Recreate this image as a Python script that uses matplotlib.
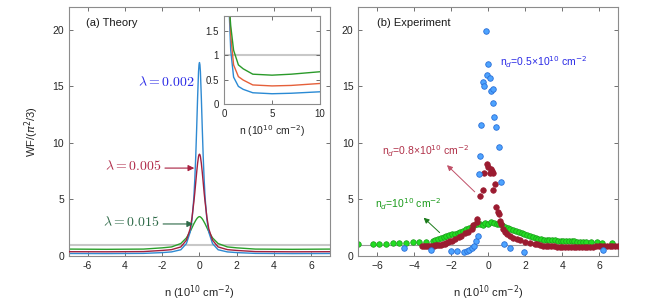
import matplotlib
matplotlib.use("Agg")
import matplotlib.pyplot as plt
import numpy as np

plt.rcParams['font.family'] = ['Liberation Sans', 'DejaVu Sans']
plt.rcParams['mathtext.fontset'] = 'dejavusans'

# --- (a) theory, half curves (n >= 0), mirrored for the main panel
n_half = [0, 0.025, 0.05, 0.1, 0.15, 0.2, 0.25, 0.3, 0.4, 0.5, 0.7, 1.0, 1.5, 2, 3, 5, 7, 10]
wf_002 = [17.1, 16.9, 16.3, 14.0, 11.3, 8.8, 6.8, 5.2, 3.2, 2.1, 1.1, 0.55, 0.36, 0.3, 0.23, 0.21, 0.22, 0.25]
wf_005 = [9.0, 8.95, 8.8, 8.2, 7.4, 6.5, 5.6, 4.8, 3.4, 2.4, 1.4, 0.8, 0.56, 0.49, 0.39, 0.37, 0.38, 0.42]
wf_015 = [3.48, 3.47, 3.45, 3.38, 3.28, 3.15, 3.0, 2.85, 2.5, 2.15, 1.6, 1.1, 0.8, 0.72, 0.61, 0.59, 0.61, 0.66]

# --- (b) experiment
blue_n = [-4.52, -3.10, -2.00, -1.68, -1.32, -1.16, -1.02, -0.89, -0.77, -0.66, -0.53, -0.50, -0.44,
          -0.39, -0.28, -0.24, -0.13, -0.08, 0.0, 0.08, 0.13, 0.28, 0.26, 0.31, 0.42, 0.57, 0.67,
          0.87, 1.18, 1.93, 6.21]
blue_wf = [0.74, 0.50, 0.40, 0.40, 0.32, 0.45, 0.55, 0.70, 0.92, 1.30, 1.80, 7.24, 8.87,
           11.6, 15.4, 15.0, 19.9, 16.0, 17.0, 15.7, 14.6, 14.8, 13.5, 12.3, 11.4, 9.66, 6.5,
           1.05, 0.72, 0.33, 0.5]

red_n = [-3.55, -3.45, -3.35, -3.25, -3.15, -3.05, -2.95, -2.85, -2.75, -2.65, -2.55, -2.45, -2.35,
         -2.25, -2.15, -2.05, -1.95, -1.8, -1.6, -1.45, -1.25, -1.07, -0.9, -0.8, -0.62, -0.59,
         -0.44, -0.26, -0.23, -0.08, 0.0, 0.1, 0.13, 0.22, 0.24, 0.28, 0.37, 0.42, 0.51, 0.6,
         0.64, 0.69, 0.78, 0.91, 1.03, 1.18, 1.35, 1.53, 1.71, 1.98, 2.25, 2.52, 2.65, 2.8, 2.95,
         3.1, 3.25, 3.4, 3.55, 3.7, 3.85, 4.0, 4.15, 4.3, 4.45, 4.6, 4.75, 4.9, 5.05, 5.2, 5.35,
         5.5, 5.65, 5.8, 5.95, 6.1, 6.25, 6.4, 6.55, 6.7, 6.85, 7.0]
red_wf = [0.92, 0.85, 0.90, 0.88, 0.92, 0.85, 0.90, 0.95, 0.93, 0.98, 1.0, 1.05, 1.1,
          1.15, 1.2, 1.3, 1.35, 1.5, 1.7, 1.8, 2.0, 2.1, 2.35, 2.7, 3.0, 3.3,
          5.3, 5.85, 7.3, 8.1, 7.9, 7.3, 7.7, 7.5, 7.3, 5.85, 6.35, 4.3, 3.9, 3.7,
          3.1, 2.8, 2.37, 2.13, 1.92, 1.77, 1.62, 1.54, 1.42, 1.27, 1.18, 1.09, 1.02, 0.97, 0.92,
          0.9, 0.88, 0.86, 0.84, 0.83, 0.82, 0.8, 0.8, 0.79, 0.78, 0.78, 0.78, 0.79, 0.8, 0.8, 0.81,
          0.82, 0.83, 0.84, 0.85, 0.86, 0.87, 0.88, 0.88, 0.9, 0.9, 0.92]

green_n = [-7.0, -6.23, -5.87, -5.51, -5.15, -4.79, -4.43, -4.07, -3.71, -3.35, -2.99, -2.85, -2.7,
           -2.55, -2.4, -2.25, -2.1, -1.95, -1.8, -1.65, -1.5, -1.35, -1.2, -1.05, -0.9, -0.75,
           -0.6, -0.45, -0.3, -0.15, 0.0, 0.15, 0.3, 0.45, 0.6, 0.75, 0.9, 1.05, 1.2, 1.35, 1.5,
           1.65, 1.8, 1.95, 2.1, 2.25, 2.4, 2.55, 2.7, 2.85, 3.0, 3.15, 3.3, 3.45, 3.6, 3.75, 3.9,
           4.05, 4.2, 4.35, 4.5, 4.65, 4.8, 4.95, 5.1, 5.25, 5.55, 5.85, 6.15, 6.7]
green_wf = [1.05, 1.08, 1.08, 1.1, 1.12, 1.15, 1.17, 1.2, 1.22, 1.28, 1.33, 1.45, 1.52,
            1.6, 1.68, 1.75, 1.82, 1.9, 1.97, 2.05, 2.15, 2.25, 2.35, 2.45, 2.55, 2.7,
            2.8, 2.85, 2.75, 2.9, 2.8, 3.0, 2.95, 2.8, 2.85, 2.7, 2.6, 2.5, 2.4, 2.3, 2.2,
            2.1, 2.0, 1.92, 1.85, 1.78, 1.7, 1.6, 1.5, 1.48, 1.45, 1.42, 1.4, 1.38, 1.37, 1.35, 1.34,
            1.33, 1.32, 1.31, 1.3, 1.29, 1.28, 1.27, 1.26, 1.25, 1.23, 1.2, 1.18, 1.17]

x_ticks = [-6, -4, -2, 0, 2, 4, 6]
x_ticklabels_a = ['-6', '4', '-2', '0', '2', '4', '6']
y_ticks = [0, 5, 10, 15, 20]

c_blue_line = '#2f8ad2'
c_red_line = '#a2203f'
c_green_line = '#2ba02b'
xlabel = 'n (10$^{10}$ cm$^{-2}$)'


def style_axes(ax, fs=7.5):
    for s in ax.spines.values():
        s.set_color('0.55')
        s.set_linewidth(0.8)
    ax.tick_params(direction='in', top=True, right=True, length=3, width=0.6,
                   color='0.35', labelsize=fs, labelcolor='0.15')


fig = plt.figure(figsize=(6.54, 3.05), dpi=100)

# ---------------- (a) Theory
ax1 = fig.add_axes([0.1055, 0.1607, 0.399, 0.816])
n_full = [-v for v in n_half[::-1]] + n_half[1:]
def mirror(vals):
    return vals[::-1] + vals[1:]

ax1.axhline(1, color='#c8c8c8', lw=1.5, zorder=1)
ax1.plot(n_full, mirror(wf_015), color=c_green_line, lw=1.0, zorder=2)
ax1.plot(n_full, mirror(wf_005), color=c_red_line, lw=1.0, zorder=3)
ax1.plot(n_full, mirror(wf_002), color=c_blue_line, lw=1.0, zorder=2.5)
ax1.set_xlim(-7, 7)
ax1.set_ylim(0, 22)
ax1.set_xticks(x_ticks)
ax1.set_xticklabels(x_ticklabels_a)
ax1.set_yticks(y_ticks)
style_axes(ax1)
ax1.set_xlabel(xlabel, fontsize=8, color='0.15', labelpad=9)
ax1.set_ylabel(r'WF/($\pi^2$/3)', fontsize=8, color='0.15', labelpad=8)
ax1.text(-6.1, 20.6, '(a) Theory', fontsize=8, color='0.1', va='center')

ax1.text(-3.3, 15.4, r'$\lambda = 0.002$', color='#2828e6', fontsize=10,
         va='center', math_fontfamily='cm')
ax1.text(-5.07, 7.95, r'$\lambda = 0.005$', color='#b02a48', fontsize=10,
         va='center', math_fontfamily='cm')
ax1.text(-5.17, 3.0, r'$\lambda = 0.015$', color='#2e6a48', fontsize=10,
         va='center', math_fontfamily='cm')
ax1.annotate('', xy=(-0.13, 7.77), xytext=(-2.0, 7.77),
             arrowprops=dict(arrowstyle='-|>', color='#a82040', lw=0.8, mutation_scale=9))
ax1.annotate('', xy=(-0.19, 2.83), xytext=(-2.1, 2.83),
             arrowprops=dict(arrowstyle='-|>', color='#2e6a48', lw=0.8, mutation_scale=9))

# inset
axi = fig.add_axes([0.3425, 0.659, 0.1468, 0.2885])
axi.axhline(1, color='#c8c8c8', lw=1.5, zorder=1)
axi.plot(n_half, wf_002, color='#2a8ad4', lw=1.0)
axi.plot(n_half, wf_005, color='#e5603a', lw=1.0)
axi.plot(n_half, wf_015, color='#2a9a2a', lw=1.0)
axi.set_xlim(0, 10)
axi.set_ylim(0, 1.8)
axi.set_xticks([0, 5, 10])
axi.set_yticks([0, 0.5, 1, 1.5])
axi.set_yticklabels(['0', '0.5', '1', '1.5'])
style_axes(axi, fs=7)
axi.set_xlabel(xlabel, fontsize=7.5, color='0.15', labelpad=3)

# ---------------- (b) Experiment
ax2 = fig.add_axes([0.548, 0.1607, 0.397, 0.816])
ax2.axhline(1, color='#9a9a9a', lw=0.8, zorder=1)
ax2.scatter(green_n, green_wf, s=16, facecolor='#22dd22', edgecolor='#1a9a1a', lw=0.5, zorder=2)
ax2.scatter(red_n, red_wf, s=16, facecolor='#9b1b30', edgecolor='#9b1b30', lw=0.5, zorder=3)
ax2.scatter(blue_n, blue_wf, s=16, facecolor='#4da3ff', edgecolor='#2a6fd6', lw=0.6, zorder=4)
ax2.set_xlim(-7, 7)
ax2.set_ylim(0, 22)
ax2.set_xticks(x_ticks)
ax2.set_yticks(y_ticks)
style_axes(ax2)
ax2.set_xlabel(xlabel, fontsize=8, color='0.15', labelpad=9)
ax2.text(-6.0, 20.6, '(b) Experiment', fontsize=8, color='0.1', va='center')

ax2.text(0.64, 17.1, 'n$_d$=0.5×10$^{10}$ cm$^{-2}$', color='#2a2ae6', fontsize=7.5, va='center')
ax2.text(-5.74, 9.3, 'n$_d$=0.8×10$^{10}$ cm$^{-2}$', color='#b03048', fontsize=7.5, va='center')
ax2.text(-6.1, 4.6, 'n$_d$=10$^{10}$ cm$^{-2}$', color='#1a9a1a', fontsize=7.5, va='center')
ax2.annotate('', xy=(-2.33, 8.2), xytext=(-0.62, 5.5),
             arrowprops=dict(arrowstyle='-|>', color='#c05068', lw=0.7, mutation_scale=8))
ax2.annotate('', xy=(-3.59, 3.55), xytext=(-2.51, 1.9),
             arrowprops=dict(arrowstyle='-|>', color='#1a7a1a', lw=0.7, mutation_scale=8))

fig.savefig('out.png', dpi=100)
